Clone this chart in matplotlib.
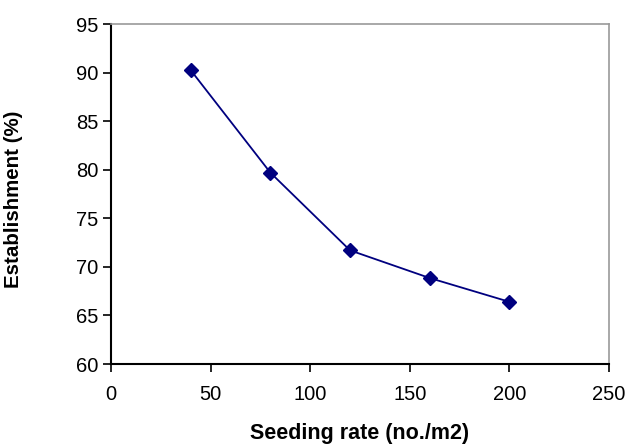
import matplotlib
matplotlib.use("Agg")
import matplotlib.pyplot as plt

seeding_rate = [40, 80, 120, 160, 200]
establishment = [90.25, 79.7, 71.7, 68.85, 66.4]
x_ticks = [0, 50, 100, 150, 200, 250]
y_ticks = [60, 65, 70, 75, 80, 85, 90, 95]

plt.rcParams['font.family'] = ['Liberation Sans', 'DejaVu Sans']

fig = plt.figure(figsize=(6.28, 4.45), dpi=100)
ax = fig.add_axes([111/628, 1 - 364/445, (609-111)/628, (364-24)/445])

ax.plot(seeding_rate, establishment, color='#00007f', linewidth=1.3,
        marker='D', markersize=7, markerfacecolor='#00007f', markeredgecolor='#00007f')

ax.set_xlim(0, 250)
ax.set_ylim(60, 95)
ax.set_xticks(x_ticks)
ax.set_yticks(y_ticks)
ax.tick_params(axis='both', labelsize=14.5, direction='out', length=6, width=1.2, colors='black')
ax.tick_params(axis='x', pad=9)
ax.tick_params(axis='y', pad=3)

for s in ['left', 'bottom']:
    ax.spines[s].set_color('black')
    ax.spines[s].set_linewidth(1.5)
for s in ['top', 'right']:
    ax.spines[s].set_color('#999999')
    ax.spines[s].set_linewidth(1.2)

ax.set_xlabel('Seeding rate (no./m2)', fontsize=15.5, fontweight='bold', labelpad=14)
ax.set_ylabel('Establishment (%)', fontsize=14.8, fontweight='bold')
ax.yaxis.set_label_coords(-0.176, 0.485)

fig.savefig('out.png', dpi=100)
